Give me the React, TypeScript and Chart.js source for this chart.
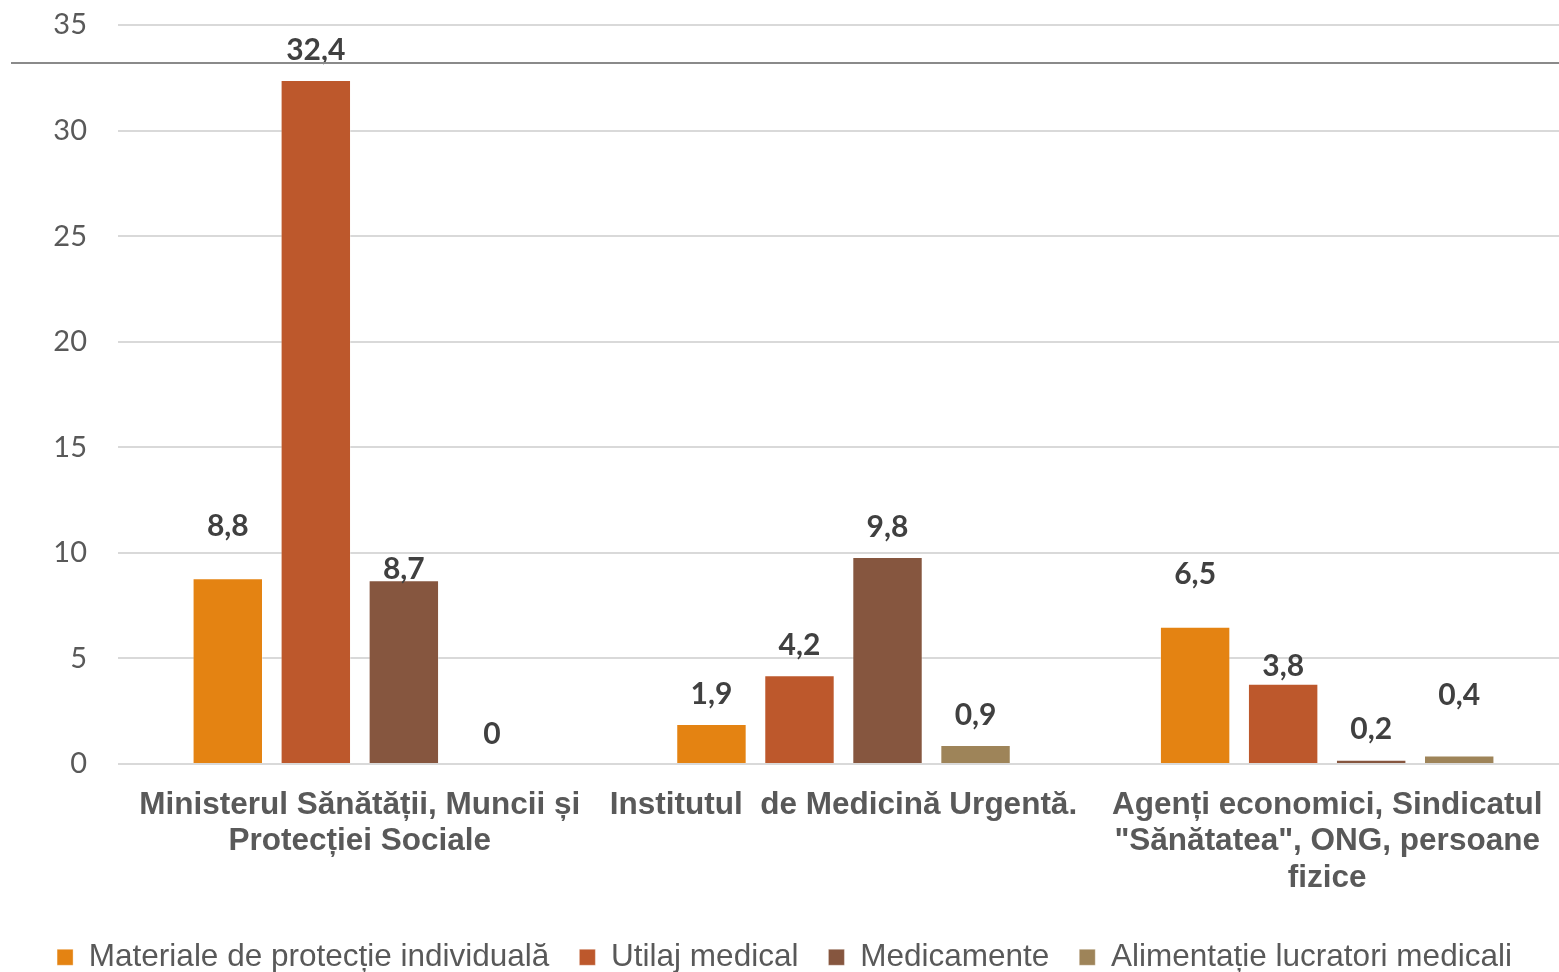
import { useEffect, useRef } from "react";
import { Chart, registerables } from "chart.js";

Chart.register(...registerables);

const categories: string[][] = [
  ["Ministerul Sănătății, Muncii și", "Protecției Sociale"],
  ["Institutul  de Medicină Urgentă."],
  ["Agenți economici, Sindicatul", "\"Sănătatea\", ONG, persoane", "fizice"],
];

const seriesNames = [
  "Materiale de protecție individuală",
  "Utilaj medical",
  "Medicamente",
  "Alimentație lucratori medicali",
];

const materiale = [8.8, 1.9, 6.5];
const utilaj = [32.4, 4.2, 3.8];
const medicamente = [8.7, 9.8, 0.2];
const alimentatie = [0, 0.9, 0.4];

const seriesColors = ["#E48312", "#BD582C", "#86563F", "#9E8459"];

// extra vertical shift of value labels (px), per series, per category
const labelShift = [
  [-22, 0, -22],
  [0, 0, 13],
  [19, 0, 0],
  [0, 0, -30],
];

const Y_MIN = 0;
const Y_MAX = 35;
const Y_STEP = 5;

const valueLabels = {
  id: "valueLabels",
  afterDatasetsDraw(chart: any) {
    const ctx = chart.ctx;
    ctx.save();
    ctx.font = "bold 30px Lato";
    ctx.fillStyle = "#404040";
    ctx.textAlign = "center";
    ctx.textBaseline = "middle";
    chart.data.datasets.forEach((ds: any, di: number) => {
      const meta = chart.getDatasetMeta(di);
      meta.data.forEach((el: any, i: number) => {
        const v = ds.data[i] as number;
        const txt = String(v).replace(".", ",");
        ctx.fillText(txt, el.x, el.y - 30 + (labelShift[di]?.[i] ?? 0));
      });
    });
    ctx.restore();
  },
};

export default function App() {
  const ref = useRef<HTMLCanvasElement | null>(null);

  useEffect(() => {
    document.body.style.margin = "0";
    const canvas = ref.current;
    if (!canvas) return;
    const seriesData = [materiale, utilaj, medicamente, alimentatie];
    const chart = new Chart(canvas, {
      type: "bar",
      data: {
        labels: categories,
        datasets: seriesNames.map((name, i) => ({
          label: name,
          data: seriesData[i],
          backgroundColor: seriesColors[i],
          borderColor: "rgba(255,255,255,0.35)",
          borderWidth: 1,
          categoryPercentage: 0.728,
          barPercentage: 0.8,
        })),
      },
      options: {
        responsive: true,
        maintainAspectRatio: false,
        animation: false,
        layout: { padding: { top: 25, bottom: 0, left: 0, right: 0 } },
        plugins: {
          tooltip: { enabled: false },
          legend: {
            position: "bottom",
            labels: {
              font: { family: "'Liberation Sans', Arial, sans-serif", size: 31.5 },
              color: "#595959",
              boxWidth: 16,
              boxHeight: 16,
              padding: 30,
            },
          },
        },
        scales: {
          x: {
            grid: { display: false, drawTicks: false },
            border: { display: false },
            ticks: {
              autoSkip: false,
              maxRotation: 0,
              minRotation: 0,
              padding: 23,
              color: "#595959",
              font: {
                family: "'Liberation Sans', Arial, sans-serif",
                size: 31.5,
                weight: "bold",
                lineHeight: 36.5 / 31.5,
              },
            },
            afterFit(scale: any) {
              scale.height = 147.5;
            },
          },
          y: {
            min: Y_MIN,
            max: Y_MAX,
            grid: { color: "#d9d9d9", lineWidth: 2, drawTicks: false },
            border: { display: false },
            ticks: {
              stepSize: Y_STEP,
              padding: 31,
              color: "#595959",
              font: { family: "Lato, sans-serif", size: 29 },
            },
            afterFit(scale: any) {
              scale.width = 118;
              scale.paddingTop = 0;
              scale.paddingBottom = 0;
            },
          },
        },
      },
      plugins: [valueLabels],
    });
    return () => chart.destroy();
  }, []);

  return (
    <div
      style={{
        position: "fixed",
        left: 0,
        top: 0,
        width: 1559,
        height: 972,
        overflow: "hidden",
        background: "#ffffff",
      }}
    >
      <div style={{ position: "absolute", left: 0, top: 0, width: 1569, height: 983 }}>
        <canvas ref={ref} />
      </div>
      <div
        style={{
          position: "absolute",
          left: 11,
          top: 62,
          width: 1548,
          height: 2,
          background: "#8a8a8a",
        }}
      />
    </div>
  );
}
